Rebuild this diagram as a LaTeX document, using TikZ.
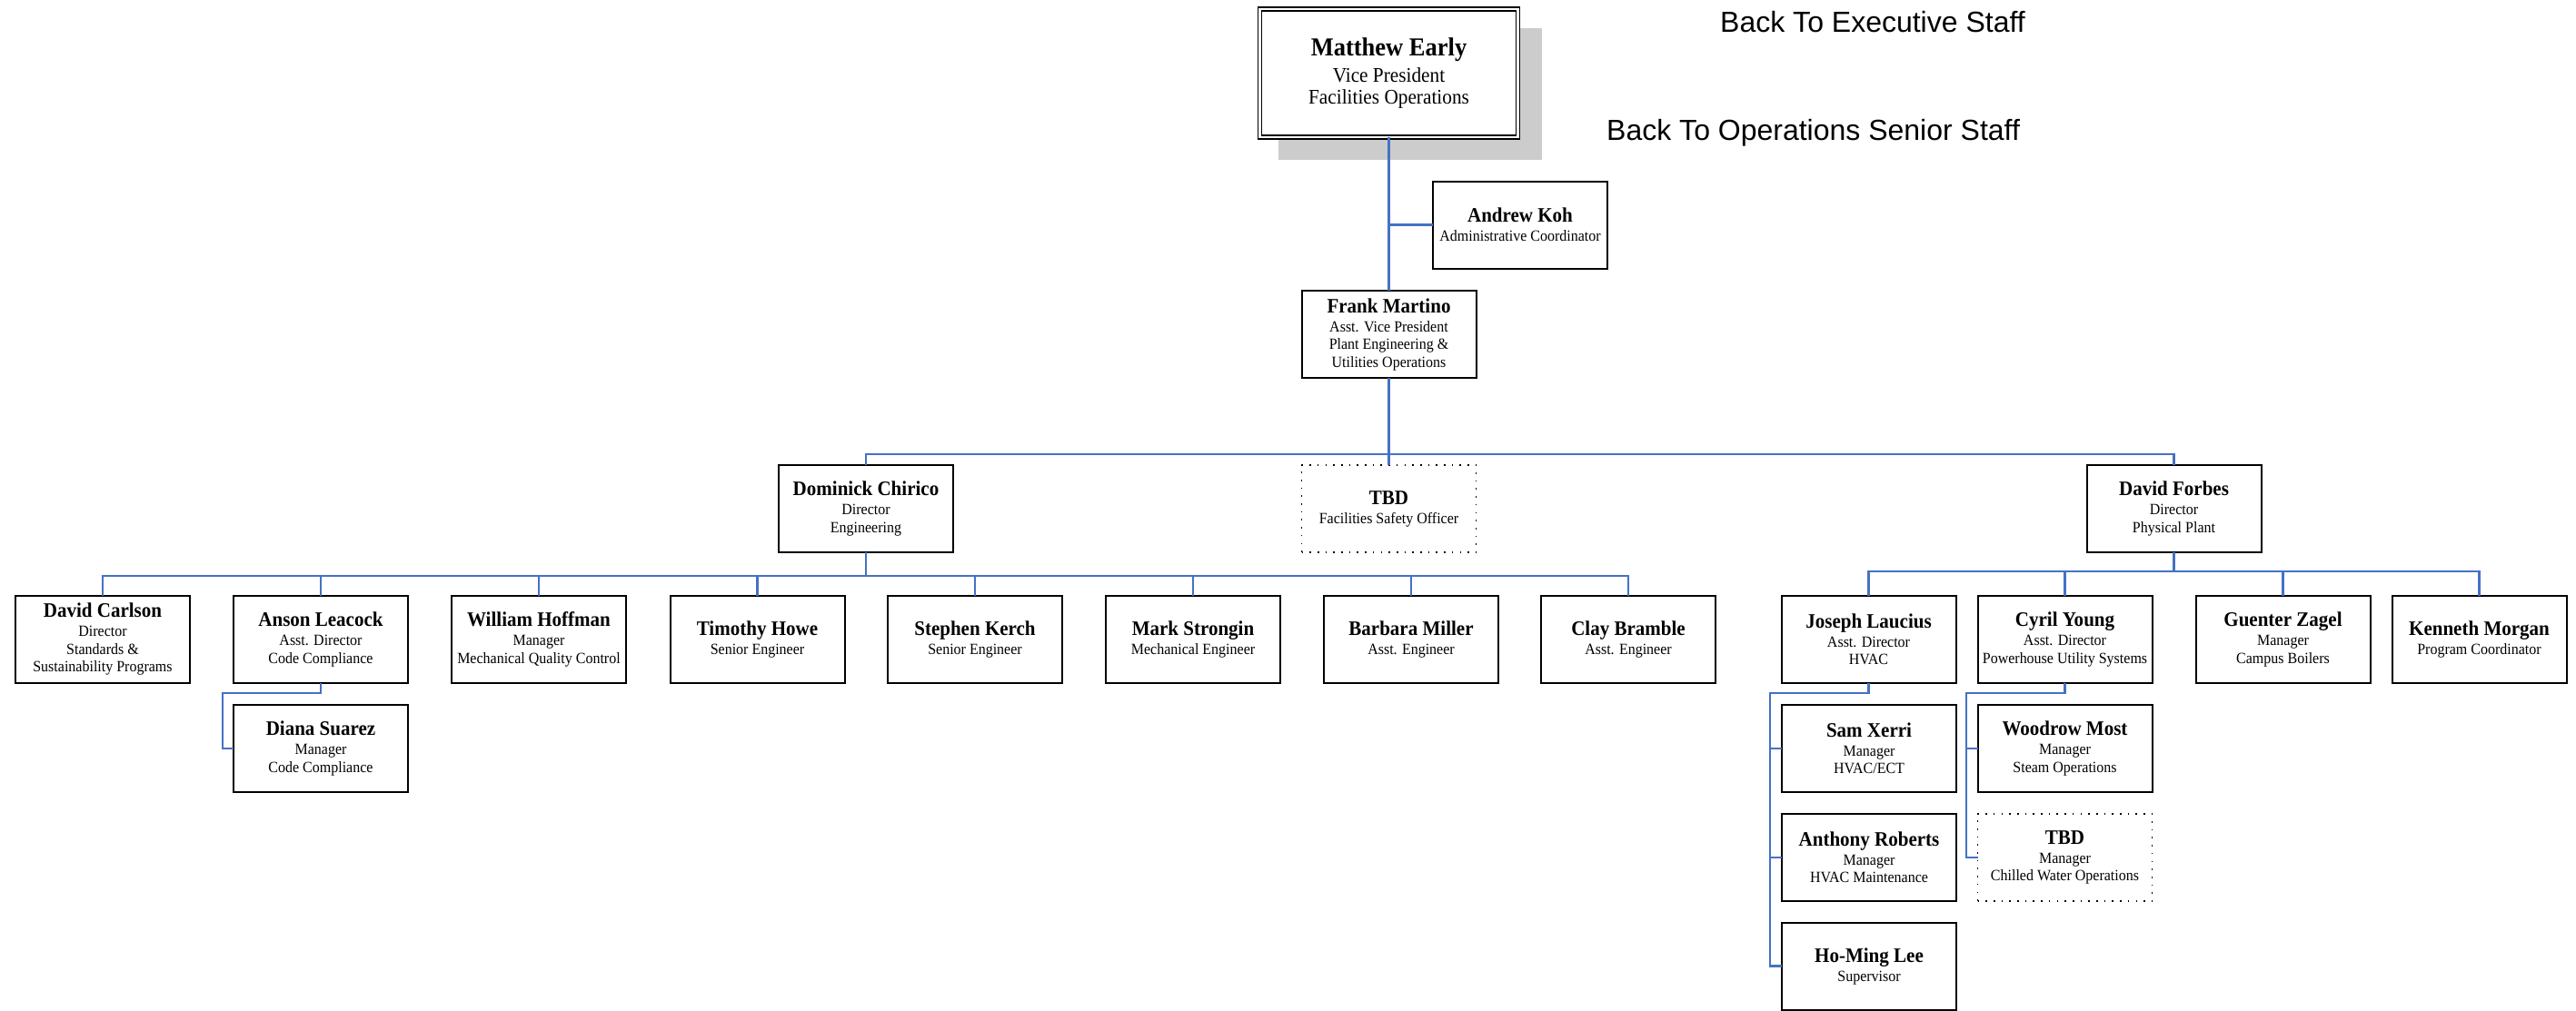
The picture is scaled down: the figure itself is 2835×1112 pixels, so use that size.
\documentclass[tikz,border=0pt]{standalone}
\usepackage{fontspec}
\setmainfont{Liberation Serif}[FakeStretch=0.93]
\newfontfamily\arialfont{Liberation Sans}
\definecolor{linkblue}{HTML}{4472C4}
\definecolor{shadowgray}{HTML}{CCCCCC}
\newcommand{\pname}[1]{{\fontsize{22.6}{21}\selectfont\bfseries #1}\\[1.5pt]}
\tikzset{
  box/.style={draw=black, line width=2pt, fill=white, minimum width=192pt, minimum height=96pt,
    inner sep=0pt, outer sep=0pt, align=center, font=\fontsize{17.2}{19.5}\selectfont},
  tbdbox/.style={box, line width=1.6pt, dash pattern=on 1.6pt off 7.1pt},
  topbox/.style={draw=black, double, double distance=2.5pt, line width=1.5pt, fill=white,
    minimum width=284pt, minimum height=141pt, inner sep=0pt, outer sep=0pt, align=center,
    font=\fontsize{22.9}{24}\selectfont},
  link/.style={draw=linkblue, line width=2.2pt},
  backlink/.style={font=\arialfont\fontsize{32}{36}\selectfont, inner sep=0pt, anchor=base west},
}
\begin{document}
\begin{tikzpicture}[x=1pt, y=-1pt]
\useasboundingbox (0,0) rectangle (2835,1112);
% shadow of top box
\fill[shadowgray] (1407,31) rectangle (1697,176);
% top
\node[topbox] (early) at (1528.5,80.5) {{\fontsize{28.5}{26.5}\selectfont\bfseries Matthew Early}\\[5pt]Vice President\\Facilities Operations};
\node[backlink] (backexec) at (1893,35) {Back To Executive Staff};
\node[backlink] (backops) at (1768,154) {Back To Operations Senior Staff};
\node[box] (koh) at (1673,247.5) {\pname{Andrew Koh}Administrative Coordinator};
\node[box] (martino) at (1528.5,368) {\pname{Frank Martino}Asst. Vice President\\Plant Engineering \&\\Utilities Operations};
% level 2
\node[box] (chirico) at (953,560) {\pname{Dominick Chirico}Director\\Engineering};
\node[tbdbox] (tbdsafety) at (1528.5,560) {\pname{TBD}Facilities Safety Officer};
\node[box] (forbes) at (2392.5,560) {\pname{David Forbes}Director\\Physical Plant};
% level 3 (engineering)
\node[box] (carlson) at (113,704) {\pname{David Carlson}Director\\Standards \&\\Sustainability Programs};
\node[box] (leacock) at (353,704) {\pname{Anson Leacock}Asst. Director\\Code Compliance};
\node[box] (hoffman) at (593,704) {\pname{William Hoffman}Manager\\Mechanical Quality Control};
\node[box] (howe) at (833.5,704) {\pname{Timothy Howe}Senior Engineer};
\node[box] (kerch) at (1073,704) {\pname{Stephen Kerch}Senior Engineer};
\node[box] (strongin) at (1313,704) {\pname{Mark Strongin}Mechanical Engineer};
\node[box] (miller) at (1553,704) {\pname{Barbara Miller}Asst. Engineer};
\node[box] (bramble) at (1792,704) {\pname{Clay Bramble}Asst. Engineer};
\node[box] (suarez) at (353,824) {\pname{Diana Suarez}Manager\\Code Compliance};
% level 3 (physical plant)
\node[box] (laucius) at (2056.5,704) {\pname{Joseph Laucius}Asst. Director\\HVAC};
\node[box] (young) at (2272.5,704) {\pname{Cyril Young}Asst. Director\\Powerhouse Utility Systems};
\node[box] (zagel) at (2512.5,704) {\pname{Guenter Zagel}Manager\\Campus Boilers};
\node[box] (morgan) at (2728.5,704) {\pname{Kenneth Morgan}Program Coordinator};
\node[box] (xerri) at (2057,824) {\pname{Sam Xerri}Manager\\HVAC/ECT};
\node[box] (roberts) at (2057,944) {\pname{Anthony Roberts}Manager\\HVAC Maintenance};
\node[box] (lee) at (2057,1063.5) {\pname{Ho-Ming Lee}Supervisor};
\node[box] (most) at (2272.5,824) {\pname{Woodrow Most}Manager\\Steam Operations};
\node[tbdbox] (tbdchilled) at (2272.5,944) {\pname{TBD}Manager\\Chilled Water Operations};
% bus coordinates
\coordinate (bus2) at (1528.5,500);
\coordinate (bus3) at (953,634);
\coordinate (bus4) at (2392.5,629);
\coordinate (dsbend) at (245,763);
\coordinate (hvbend) at (1948,763);
\coordinate (pwbend) at (2164,763);
% connectors
\draw[link] (early.south) -- (martino.north);
\draw[link] (koh.west) -- (koh.west -| early.south);
\draw[link] (martino.south) -- (tbdsafety.north);
\draw[link] (chirico.north) |- (bus2) -| (forbes.north);
\draw[link] (chirico.south) -- (bus3);
\draw[link] (carlson.north) |- (bus3) -| (bramble.north);
\foreach \c in {leacock,hoffman,howe,kerch,strongin,miller}
  \draw[link] (\c.north) -- (\c.north |- bus3);
\draw[link] (forbes.south) -- (bus4);
\draw[link] (laucius.north) |- (bus4) -| (morgan.north);
\foreach \c in {young,zagel}
  \draw[link] (\c.north) -- (\c.north |- bus4);
\draw[link] (leacock.south) |- (dsbend) |- (suarez.west);
\draw[link] (laucius.south) |- (hvbend) |- (lee.west);
\draw[link] (hvbend |- xerri.west) -- (xerri.west);
\draw[link] (hvbend |- roberts.west) -- (roberts.west);
\draw[link] (young.south) |- (pwbend) |- (tbdchilled.west);
\draw[link] (pwbend |- most.west) -- (most.west);
\end{tikzpicture}
\end{document}
